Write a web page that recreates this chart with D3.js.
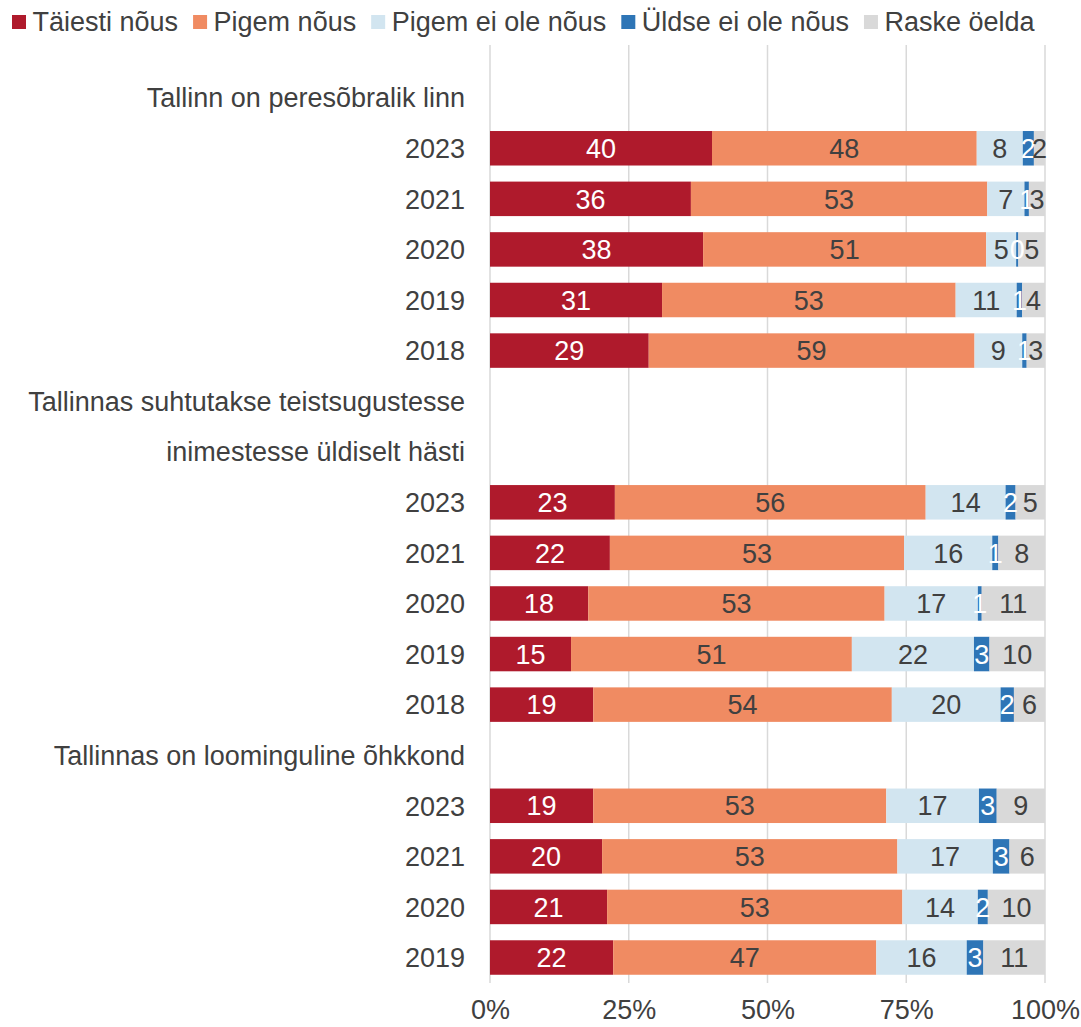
<!DOCTYPE html>
<html>
<head>
<meta charset="utf-8">
<script src="https://cdn.jsdelivr.net/npm/d3@7"></script>
<style>
  body { margin: 0; background: #fff; }
  text { font-family: "Liberation Sans", Arial, sans-serif; }
</style>
</head>
<body>
<div id="chart"></div>
<script>
// answer categories (legend order)
const answers = ["Täiesti nõus", "Pigem nõus", "Pigem ei ole nõus", "Üldse ei ole nõus", "Raske öelda"];

// statements, each with its own title lines and survey years
const statementTitles = [
    ["Tallinn on peresõbralik linn"],
    ["Tallinnas suhtutakse teistsugustesse", "inimestesse üldiselt hästi"],
    ["Tallinnas on loominguline õhkkond"]
];
const statementYears = [
    ["2023", "2021", "2020", "2019", "2018"],
    ["2023", "2021", "2020", "2019", "2018"],
    ["2023", "2021", "2020", "2019"]
];

// shares in %, one entry per bar, top to bottom
const taiestiNous = [40.0, 36.2, 38.4, 31.0, 28.6, 22.5, 21.6, 17.7, 14.6, 18.6, 18.6, 20.2, 21.1, 22.2];
const pigemNous = [47.7, 53.4, 51.0, 52.9, 58.7, 56.0, 53.0, 53.4, 50.6, 53.8, 52.8, 53.2, 53.2, 47.4];
const pigemEiOle = [8.3, 6.7, 5.4, 11.0, 8.6, 14.4, 15.9, 16.8, 22.0, 19.6, 16.7, 17.2, 13.6, 16.3];
const uldseEiOle = [2.0, 0.8, 0.4, 1.0, 0.8, 1.8, 1.1, 0.7, 2.8, 2.4, 3.2, 3.0, 1.8, 3.0];
const raskeOelda = [2.0, 2.9, 4.8, 4.1, 3.3, 5.3, 8.4, 11.4, 10.0, 5.6, 8.7, 6.4, 10.3, 11.1];

const xTicks = [0, 0.25, 0.5, 0.75, 1];

const colors = ["#AF1A2C", "#F08B62", "#D2E5F0", "#2E75B6", "#D9D9D9"];
const labelColors = ["#fff", "#404040", "#404040", "#fff", "#404040"];

const width = 1081, height = 1027;
const fontSize = 27;

// build the row list: title lines and bars share one band scale
let rows = [];
let bars = [];
let barIndex = 0;
statementTitles.forEach(function (lines, s) {
    lines.forEach(function (line, j) {
        rows.push({ id: "t" + s + "_" + j, label: line, bar: false });
    });
    statementYears[s].forEach(function (year) {
        let id = "b" + barIndex;
        rows.push({ id: id, label: year, bar: true });
        bars.push({
            id: id,
            "Täiesti nõus": taiestiNous[barIndex],
            "Pigem nõus": pigemNous[barIndex],
            "Pigem ei ole nõus": pigemEiOle[barIndex],
            "Üldse ei ole nõus": uldseEiOle[barIndex],
            "Raske öelda": raskeOelda[barIndex]
        });
        barIndex++;
    });
});

const x = d3.scaleLinear().domain([0, 1]).range([490, 1045]);
const y = d3.scaleBand()
    .domain(rows.map(d => d.id))
    .range([72.4, 982.8])
    .paddingInner(0.318)
    .paddingOuter(0.159);
const color = d3.scaleOrdinal().domain(answers).range(colors);
const labelColor = d3.scaleOrdinal().domain(answers).range(labelColors);

const svg = d3.select("#chart")
    .append("svg")
    .attr("width", width)
    .attr("height", height);

// gridlines
svg.append("g")
    .selectAll("line")
    .data(xTicks)
    .enter()
    .append("line")
    .attr("x1", d => x(d))
    .attr("x2", d => x(d))
    .attr("y1", 45)
    .attr("y2", 983)
    .style("stroke", "#D9D9D9")
    .style("stroke-width", 1.5);

// stacked bars, normalised to 100 %
const stacked = d3.stack()
    .keys(answers)
    .offset(d3.stackOffsetExpand)(bars);

const layer = svg.append("g")
    .selectAll("g")
    .data(stacked)
    .enter()
    .append("g")
    .attr("fill", d => color(d.key));

layer.selectAll("rect")
    .data(d => d)
    .enter()
    .append("rect")
    .attr("x", d => x(d[0]))
    .attr("y", d => y(d.data.id))
    .attr("width", d => x(d[1]) - x(d[0]))
    .attr("height", y.bandwidth());

// value labels
const labels = svg.append("g")
    .selectAll("g")
    .data(stacked)
    .enter()
    .append("g")
    .attr("fill", d => labelColor(d.key));

labels.selectAll("text")
    .data(d => d.map(p => ({ p: p, key: d.key })))
    .enter()
    .append("text")
    .attr("x", d => (x(d.p[0]) + x(d.p[1])) / 2)
    .attr("y", d => y(d.p.data.id) + y.bandwidth() / 2)
    .attr("dy", "0.36em")
    .attr("text-anchor", "middle")
    .style("font-size", fontSize + "px")
    .text(d => Math.round(d.p.data[d.key]));

// category axis (titles and years)
const yAxis = svg.append("g")
    .attr("transform", "translate(465,0)")
    .call(d3.axisLeft(y).tickSize(0).tickPadding(0).tickFormat(function (id) {
        return rows.find(r => r.id === id).label;
    }));
yAxis.select(".domain").remove();
yAxis.selectAll("text")
    .attr("dy", "0.36em")
    .style("font-size", fontSize + "px")
    .style("font-family", "Liberation Sans, Arial, sans-serif")
    .attr("fill", "#404040");

// percent axis
const xAxis = svg.append("g")
    .attr("transform", "translate(0,1000)")
    .call(d3.axisBottom(x).tickValues(xTicks).tickSize(0).tickPadding(0).tickFormat(d3.format(".0%")));
xAxis.select(".domain").remove();
xAxis.selectAll("text")
    .attr("dy", "0.71em")
    .style("font-size", fontSize + "px")
    .style("font-family", "Liberation Sans, Arial, sans-serif")
    .attr("fill", "#404040");

// legend
const legend = svg.append("g");
let lx = 12;
answers.forEach(function (a) {
    legend.append("rect")
        .attr("x", lx)
        .attr("y", 15)
        .attr("width", 14)
        .attr("height", 14)
        .attr("fill", color(a));
    let t = legend.append("text")
        .attr("x", lx + 20.5)
        .attr("y", 31)
        .attr("fill", "#404040")
        .style("font-size", fontSize + "px")
        .text(a);
    lx += 20.5 + t.node().getComputedTextLength() + 15;
});
</script>
</body>
</html>
